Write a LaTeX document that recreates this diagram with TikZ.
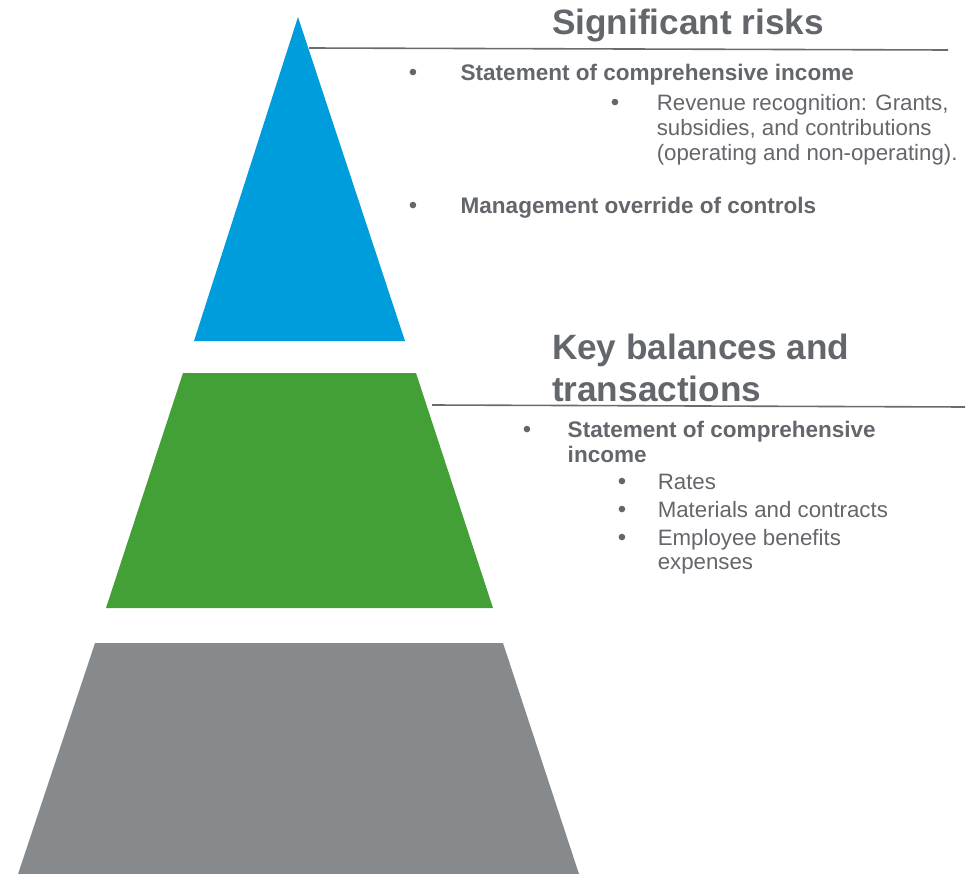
\documentclass[tikz,border=0pt]{standalone}
\usepackage{fontspec}
\setmainfont{Liberation Sans}
\usetikzlibrary{positioning}

\definecolor{riskblue}{RGB}{0,157,220}
\definecolor{keygreen}{RGB}{67,160,54}
\definecolor{basegray}{RGB}{135,138,141}
\definecolor{textgray}{RGB}{99,102,106}
\definecolor{rulegray}{RGB}{105,107,110}

% lines of a node, set on the baseline of the first one
\newcommand{\textlines}[1]{\begin{tabular}[t]{@{}l@{}}#1\end{tabular}}

\begin{document}
\begin{tikzpicture} [x=0.75pt, y=-0.75pt,
            every node/.style = {inner sep=0pt, outer sep=0pt, text=textgray},
            heading/.style = {font=\fontsize{26.4}{32.2}\selectfont\bfseries,
                anchor=base west},
            mainitem/.style = {font=\fontsize{16.9}{18.75}\selectfont\bfseries},
            subitem/.style = {font=\fontsize{16.7}{18.6}\selectfont},
            bul/.style = {font=\fontsize{18}{18}\selectfont, anchor=base},
            rule/.style = {draw=rulegray, line width=1.2pt}]
            \useasboundingbox (0,0) rectangle (972,874);

            % Pyramid levels
            \fill [riskblue]  (298,17) -- (405,341) -- (194,341) -- cycle;
            \fill [keygreen]  (183,373) -- (416,373) -- (493,608) -- (106,608) -- cycle;
            \fill [basegray]  (95,643) -- (503,643) -- (579,874) -- (18,874) -- cycle;

            % Rule ends
            \coordinate (r1a) at (309,48);
            \coordinate (r1b) at (948,50);
            \coordinate (r2a) at (432,405);
            \coordinate (r2b) at (965,407);

            % Significant risks
            \node (sig) [heading] at (552,35) {Significant risks};
            \draw [rule] (r1a) -- (r1b);

            \node (b1) [bul] at (413,81) {•};
            \node (soci1) [mainitem,
                base right = 32.6pt of b1] {Statement of comprehensive income};

            \node (b11) [bul] at (615,111) {•};
            \node (rev) [subitem,
                base right = 28.2pt of b11] {\textlines{Revenue recognition: Grants,\\
                subsidies, and contributions\\
                (operating and non-operating).}};

            \node (b2) [bul] at (413,213) {•};
            \node (mgmt) [mainitem,
                base right = 32.6pt of b2] {Management override of controls};

            % Key balances and transactions
            \node (key) [heading] at (552,359) {\textlines{Key balances and\\transactions}};
            \draw [rule] (r2a) -- (r2b);

            \node (b3) [bul] at (527,437) {•};
            \node (soci2) [mainitem,
                base right = 27.4pt of b3] {\textlines{Statement of comprehensive\\income}};

            \node (b31) [bul] at (622,489) {•};
            \node (rates) [subitem,
                base right = 23.7pt of b31] {Rates};

            \node (b32) [bul] at (622,517) {•};
            \node (mat) [subitem,
                base right = 23.7pt of b32] {Materials and contracts};

            \node (b33) [bul] at (622,545) {•};
            \node (emp) [subitem,
                base right = 23.7pt of b33] {\textlines{Employee benefits\\expenses}};
        \end{tikzpicture}
\end{document}
